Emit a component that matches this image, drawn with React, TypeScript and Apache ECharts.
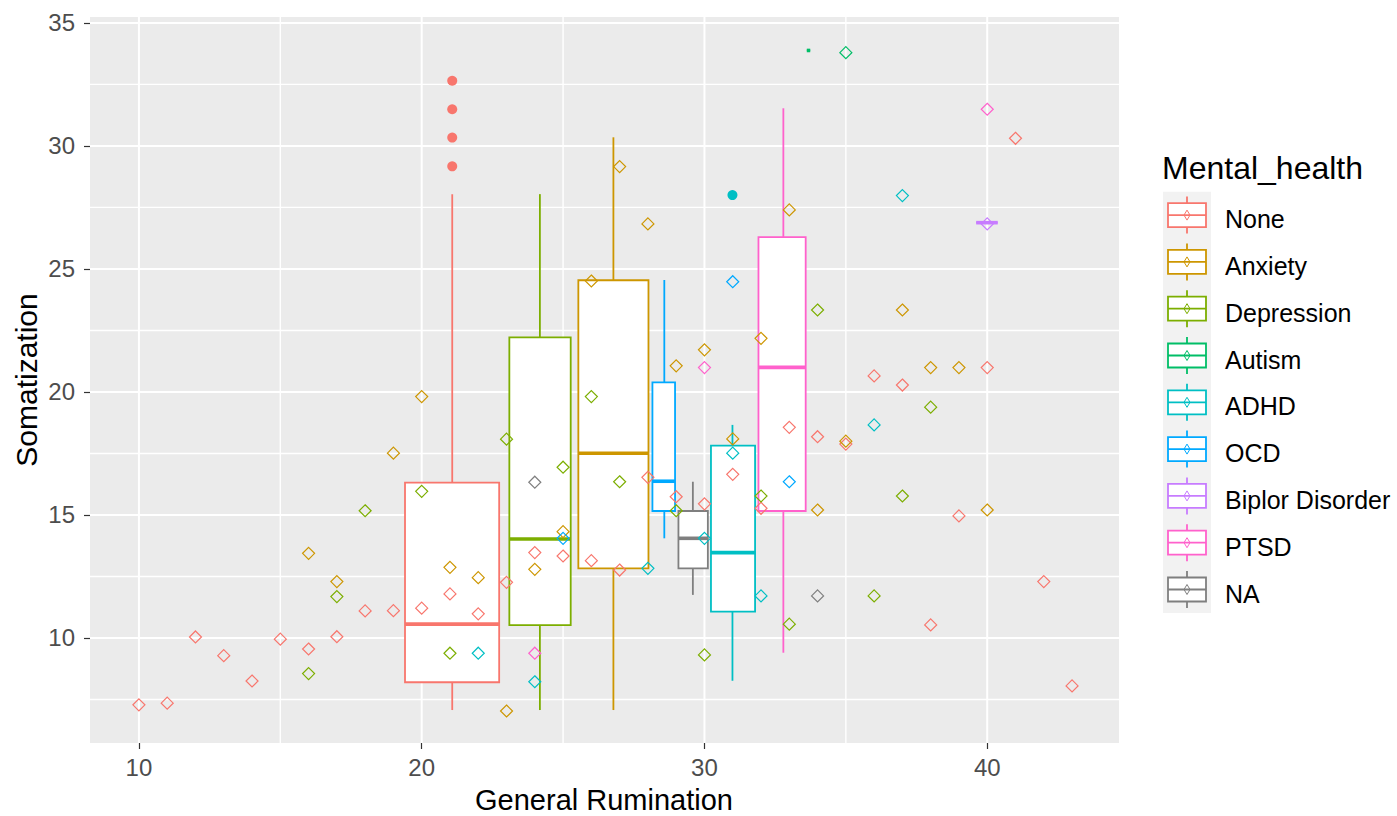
import React, { useEffect, useRef } from "react";
import * as echarts from "echarts";

const FONT = '"Liberation Sans", Arial, Helvetica, sans-serif';

const groups = ["None", "Anxiety", "Depression", "Autism", "ADHD", "OCD", "Biplor Disorder", "PTSD", "NA"];
const colors = ["#F8766D", "#CD9600", "#7CAE00", "#00BE67", "#00BFC4", "#00A9FF", "#C77CFF", "#FF61CC", "#7F7F7F"];

// axis ticks / grid lines
const xMajor = [10, 20, 30, 40];
const xMinor = [15, 25, 35];
const yMajor = [10, 15, 20, 25, 30, 35];
const yMinor = [7.5, 12.5, 17.5, 22.5, 27.5, 32.5];
const xMin = 8.27;
const xMax = 44.66;
const yMin = 5.73;
const yMax = 35.24;

// box stats: [left, right, centre, lower whisker, q1, median, q3, upper whisker]
const boxNone = [19.41, 22.74, 21.08, 7.07, 8.2, 10.56, 16.31, 28.04];
const boxAnxiety = [25.54, 28.02, 26.78, 7.07, 12.83, 17.51, 24.54, 30.35];
const boxDepression = [23.1, 25.27, 24.18, 7.07, 10.52, 14.02, 22.22, 28.04];
const boxAutism = [33.62, 33.74, 33.68, 33.88, 33.88, 33.88, 33.88, 33.88];
const boxADHD = [30.23, 31.79, 30.99, 8.26, 11.07, 13.47, 17.82, 18.66];
const boxOCD = [28.16, 28.96, 28.58, 14.05, 15.16, 16.37, 20.39, 24.55];
const boxBiplor = [39.61, 40.37, 40.0, 26.88, 26.88, 26.88, 26.88, 26.88];
const boxPTSD = [31.91, 33.58, 32.79, 9.4, 15.16, 21.0, 26.29, 31.53];
const boxNA = [29.08, 30.12, 29.59, 11.75, 12.83, 14.05, 15.16, 16.35];
const boxes = [boxNone, boxAnxiety, boxDepression, boxAutism, boxADHD, boxOCD, boxBiplor, boxPTSD, boxNA];

// boxplot outliers
const outNone = [[21.08, 32.65], [21.08, 31.49], [21.08, 30.34], [21.08, 29.17]];
const outADHD = [[30.99, 28.0]];
const outliers = [outNone, [], [], [], outADHD, [], [], [], []];

// jittered points [General Rumination, Somatization]
const ptsNone = [[10, 7.28], [11, 7.35], [12, 10.04], [13, 9.28], [14, 8.25], [15, 9.95], [16, 9.55], [17, 10.05], [18, 11.1], [19, 11.11], [20, 11.21], [21, 11.79], [22, 10.98], [23, 12.26], [24, 13.47], [25, 13.33], [26, 13.14], [27, 12.76], [28, 16.53], [29, 15.74], [30, 15.45], [31, 16.65], [32, 15.27], [33, 18.56], [34, 18.18], [35, 17.88], [36, 20.65], [37, 20.28], [38, 10.53], [39, 14.96], [40, 20.99], [41, 30.31], [42, 12.29], [43, 8.05]];
const ptsAnxiety = [[16, 13.44], [17, 12.29], [19, 17.51], [20, 19.81], [21, 12.87], [22, 12.45], [23, 7.03], [24, 12.79], [25, 14.32], [26, 24.51], [27, 29.16], [28, 26.83], [29, 21.06], [30, 21.71], [31, 18.09], [32, 22.18], [33, 27.4], [34, 15.2], [35, 18.0], [37, 23.33], [38, 20.99], [39, 20.99], [40, 15.2]];
const ptsDepression = [[16, 8.55], [17, 11.68], [18, 15.17], [20, 15.96], [21, 9.38], [23, 18.08], [25, 16.94], [26, 19.81], [27, 16.35], [29, 15.17], [30, 9.31], [32, 15.77], [33, 10.56], [34, 23.33], [36, 11.71], [37, 15.77], [38, 19.38]];
const ptsAutism = [[35, 33.79]];
const ptsADHD = [[22, 9.38], [24, 8.22], [28, 12.83], [30, 14.05], [31, 17.51], [32, 11.71], [36, 18.66], [37, 27.98]];
const ptsOCD = [[25, 14.05], [31, 24.48], [33, 16.35]];
const ptsBiplor = [[40, 26.83]];
const ptsPTSD = [[24, 9.38], [30, 20.99], [40, 31.49]];
const ptsNA = [[24, 16.33], [34, 11.71]];
const points = [ptsNone, ptsAnxiety, ptsDepression, ptsAutism, ptsADHD, ptsOCD, ptsBiplor, ptsPTSD, ptsNA];

function buildOption() {
  const gridLineData = [
    ...xMinor.map((v) => [0, v, 1.4]),
    ...yMinor.map((v) => [1, v, 1.4]),
    ...xMajor.map((v) => [0, v, 2]),
    ...yMajor.map((v) => [1, v, 2]),
  ];

  const series: any[] = [];
  series.push({
    type: "custom",
    name: "grid",
    silent: true,
    z: 1,
    data: gridLineData,
    encode: { x: 1, y: 1 },
    renderItem: (params: any, api: any) => {
      const cs = params.coordSys;
      const dir = api.value(0);
      const v = api.value(1);
      const w = api.value(2);
      if (dir === 0) {
        const x = api.coord([v, yMin])[0];
        return { type: "line", shape: { x1: x, y1: cs.y, x2: x, y2: cs.y + cs.height }, style: { stroke: "#FFFFFF", lineWidth: w } };
      }
      const y = api.coord([xMin, v])[1];
      return { type: "line", shape: { x1: cs.x, y1: y, x2: cs.x + cs.width, y2: y }, style: { stroke: "#FFFFFF", lineWidth: w } };
    },
  });

  groups.forEach((g, i) => {
    const color = colors[i];
    series.push({
      type: "custom",
      name: g,
      silent: true,
      z: 2,
      data: [boxes[i]],
      encode: { x: [0, 1, 2], y: [3, 4, 5, 6, 7] },
      renderItem: (_params: any, api: any) => {
        const l = api.value(0), r = api.value(1), c = api.value(2);
        const lo = api.value(3), q1 = api.value(4), md = api.value(5), q3 = api.value(6), hi = api.value(7);
        const xl = api.coord([l, md])[0];
        const xr = api.coord([r, md])[0];
        const xc = api.coord([c, md])[0];
        const yLo = api.coord([c, lo])[1];
        const yQ1 = api.coord([c, q1])[1];
        const yMd = api.coord([c, md])[1];
        const yQ3 = api.coord([c, q3])[1];
        const yHi = api.coord([c, hi])[1];
        return {
          type: "group",
          children: [
            { type: "line", shape: { x1: xc, y1: yHi, x2: xc, y2: yQ3 }, style: { stroke: color, lineWidth: 1.8 } },
            { type: "line", shape: { x1: xc, y1: yQ1, x2: xc, y2: yLo }, style: { stroke: color, lineWidth: 1.8 } },
            { type: "rect", shape: { x: xl, y: yQ3, width: xr - xl, height: yQ1 - yQ3 }, style: { fill: "#FFFFFF", stroke: color, lineWidth: 1.8 } },
            { type: "line", shape: { x1: xl, y1: yMd, x2: xr, y2: yMd }, style: { stroke: color, lineWidth: 3.6 } },
          ],
        };
      },
    });
  });

  groups.forEach((g, i) => {
    if (outliers[i].length) {
      series.push({
        type: "scatter",
        name: g,
        silent: true,
        z: 3,
        symbol: "circle",
        symbolSize: 10,
        itemStyle: { color: colors[i], opacity: 1 },
        data: outliers[i],
      });
    }
  });

  groups.forEach((g, i) => {
    series.push({
      type: "scatter",
      name: g,
      silent: true,
      z: 4,
      symbol: "diamond",
      symbolSize: 12,
      itemStyle: { color: "rgba(0,0,0,0)", borderColor: colors[i], borderWidth: 1.2, opacity: 1 },
      data: points[i],
    });
  });

  // legend (ggplot style) built from the group list
  const keyTop = 191.7;
  const keyH = 46.8;
  const legendChildren: any[] = [
    { type: "text", x: 1162, y: 168, style: { text: "Mental_health", fontSize: 32, fontFamily: FONT, fill: "#000000", verticalAlign: "middle" } },
    { type: "rect", shape: { x: 1163, y: keyTop, width: 48, height: keyH * groups.length }, style: { fill: "#F2F2F2" } },
  ];
  groups.forEach((g, i) => {
    const cy = keyTop + keyH / 2 + keyH * i;
    const cx = 1187;
    const c = colors[i];
    legendChildren.push(
      { type: "line", shape: { x1: cx, y1: cy - 18.5, x2: cx, y2: cy + 18.5 }, style: { stroke: c, lineWidth: 1.8 } },
      { type: "rect", shape: { x: 1168, y: cy - 12, width: 38, height: 24 }, style: { fill: "#FFFFFF", stroke: c, lineWidth: 1.8 } },
      { type: "line", shape: { x1: 1168, y1: cy, x2: 1206, y2: cy }, style: { stroke: c, lineWidth: 1.8 } },
      { type: "polygon", shape: { points: [[cx, cy - 5], [cx + 3, cy], [cx, cy + 5], [cx - 3, cy]] }, style: { fill: "none", stroke: c, lineWidth: 1 } },
      { type: "text", x: 1225, y: cy + 4, style: { text: g, fontSize: 25, fontFamily: FONT, fill: "#000000", verticalAlign: "middle" } }
    );
  });

  return {
    animation: false,
    backgroundColor: "#FFFFFF",
    grid: { left: 90, top: 17, width: 1029, height: 726, show: true, backgroundColor: "#EBEBEB", borderWidth: 0, containLabel: false },
    xAxis: {
      type: "value",
      min: xMin,
      max: xMax,
      axisLine: { show: false },
      splitLine: { show: false },
      axisTick: { show: true, length: 6, lineStyle: { color: "#333333", width: 1.2 }, customValues: xMajor },
      axisLabel: { customValues: xMajor, fontSize: 24, color: "#4D4D4D", margin: 12, fontFamily: FONT },
    },
    yAxis: {
      type: "value",
      min: yMin,
      max: yMax,
      axisLine: { show: false },
      splitLine: { show: false },
      axisTick: { show: true, length: 6, lineStyle: { color: "#333333", width: 1.2 }, customValues: yMajor },
      axisLabel: { customValues: yMajor, fontSize: 24, color: "#4D4D4D", margin: 15, fontFamily: FONT },
    },
    graphic: [
      { type: "text", x: 604, y: 800, style: { text: "General Rumination", fontSize: 29, fontFamily: FONT, fill: "#000000", align: "center", verticalAlign: "middle" } },
      { type: "text", x: 26, y: 380, rotation: Math.PI / 2, style: { text: "Somatization", fontSize: 30, fontFamily: FONT, fill: "#000000", align: "center", verticalAlign: "middle" } },
      { type: "group", children: legendChildren },
    ],
    series,
  };
}

export default function App() {
  const ref = useRef<HTMLDivElement>(null);
  useEffect(() => {
    if (!ref.current) return;
    const chart = echarts.init(ref.current, undefined, { renderer: "svg" });
    chart.setOption(buildOption() as any);
    return () => chart.dispose();
  }, []);
  return <div ref={ref} style={{ position: "fixed", left: 0, top: 0, width: 1397, height: 816 }} />;
}
